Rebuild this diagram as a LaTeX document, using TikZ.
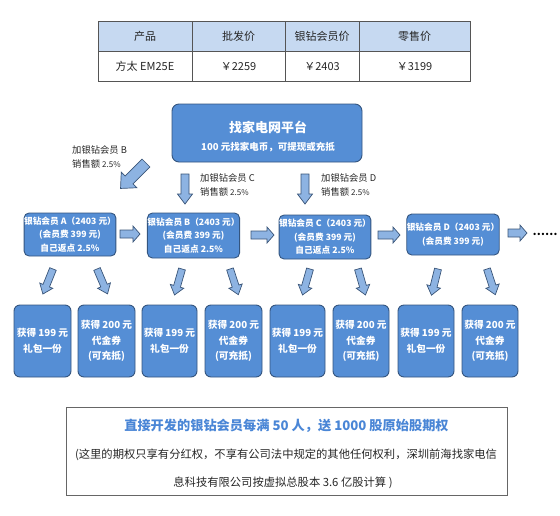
\documentclass[tikz,border=0pt]{standalone}
\usepackage{fontspec}
\setmainfont{Noto Sans CJK SC}
\definecolor{boxblue}{HTML}{558ED5}
\definecolor{boxline}{HTML}{34557F}
\definecolor{arrowfill}{HTML}{8DB3E2}
\definecolor{arrowline}{HTML}{3A5578}
\definecolor{headfill}{HTML}{C6D9F1}
\definecolor{titleblue}{HTML}{4A86D6}
\definecolor{tabline}{HTML}{555555}
\begin{document}
\begin{tikzpicture}[x=1pt,y=-1pt,
  cell/.style={draw=tabline, line width=0.9pt, minimum height=30pt, inner sep=0pt, text=black!85, font=\fontsize{11}{13}\selectfont},
  hcell/.style={cell, fill=headfill},
  bluebox/.style={draw=boxline, line width=0.9pt, fill=boxblue, rounded corners=5pt, text=white, align=center, inner sep=0pt},
  midbox/.style={bluebox, font=\bfseries\fontsize{8.7}{13.5}\selectfont},
  lowbox/.style={bluebox, minimum width=56pt, minimum height=72pt, rounded corners=6pt, font=\bfseries\fontsize{9.7}{15.5}\selectfont},
  lbl/.style={align=left, anchor=north west, inner sep=0pt, text=black!85, font=\fontsize{9.3}{14}\selectfont},
  arrowstyle/.style={draw=arrowline, line width=0.7pt, fill=arrowfill, line join=miter},
  pics/blockarrow/.style n args={4}{code={
    \path[arrowstyle] (0,-#2/2) -- (#1-#4,-#2/2) -- (#1-#4,-#3/2) -- (#1,0) -- (#1-#4,#3/2) -- (#1-#4,#2/2) -- (0,#2/2) -- cycle;
  }}
]
\useasboundingbox (0,0) rectangle (560,515);
% table
\node[hcell, minimum width=94pt] (h1) at (145,36.5) {产品};
\node[hcell, minimum width=93pt] (h2) at (238.5,36.5) {批发价};
\node[hcell, minimum width=74pt] (h3) at (322,36.5) {银钻会员价};
\node[hcell, minimum width=111pt] (h4) at (414.5,36.5) {零售价};
\node[cell, minimum width=94pt] (r1) at (145,66.5) {方太 EM25E};
\node[cell, minimum width=93pt] (r2) at (238.5,66.5) {￥2259};
\node[cell, minimum width=74pt] (r3) at (322,66.5) {￥2403};
\node[cell, minimum width=111pt] (r4) at (414.5,66.5) {￥3199};
% top box
\node[bluebox, minimum width=190pt, minimum height=58pt, rounded corners=7pt] (top) at (267,133) {};
\node[text=white, font=\bfseries\fontsize{13}{15}\selectfont, inner sep=0pt] (toptitle) at (268,127) {找家电网平台};
\node[text=white, font=\bfseries\fontsize{9.5}{11}\selectfont, inner sep=0pt] (topsub) at (268,147) {100 元找家电币，可提现或充抵};
% labels
\node[lbl] (lb) at (72,145) {加银钻会员 B\\销售额 {\fontsize{8}{14}\selectfont 2.5\%}};
\node[lbl] (lc) at (200,173) {加银钻会员 C\\销售额 {\fontsize{8}{14}\selectfont 2.5\%}};
\node[lbl] (ld) at (321,173) {加银钻会员 D\\销售额 {\fontsize{8}{14}\selectfont 2.5\%}};
% arrows from top
\pic[rotate=225] at (146,163) {blockarrow={36}{11}{22}{12}};
\pic[rotate=-90] at (185,174) {blockarrow={30}{8}{15}{10}};
\pic[rotate=-90] at (305,174) {blockarrow={30}{8}{15}{10}};
% middle row
\node[midbox, minimum width=90pt, minimum height=43pt] (ma) at (70,234.5) {银钻会员 A（2403 元）\\(会员费 399 元)\\自己返点 2.5\%};
\node[midbox, minimum width=89pt, minimum height=45pt] (mb) at (193.5,235.5) {银钻会员 B（2403 元）\\(会员费 399 元)\\自己返点 2.5\%};
\node[midbox, minimum width=90pt, minimum height=44pt] (mc) at (325,237) {银钻会员 C（2403 元）\\(会员费 399 元)\\自己返点 2.5\%};
\node[midbox, minimum width=90pt, minimum height=41pt] (md) at (453,234.5) {银钻会员 D（2403 元）\\(会员费 399 元)};
\node[inner sep=0pt, font=\bfseries\fontsize{11}{13}\selectfont] (dots) at (545,234) {……};
% horizontal arrows
\pic at (120,234) {blockarrow={20}{8}{16}{7}};
\pic at (251,235) {blockarrow={23}{8}{16}{7}};
\pic at (378,235) {blockarrow={22}{8}{16}{7}};
\pic at (508,233) {blockarrow={19}{8}{16}{7}};
% bottom row
\node[lowbox, minimum width=57pt] (b1) at (42.5,341) {获得 199 元\\礼包一份};
\node[lowbox, minimum width=57pt] (b2) at (106.5,341) {获得 200 元\\代金券\\(可充抵)};
\node[lowbox, minimum width=55pt] (b3) at (169.5,341) {获得 199 元\\礼包一份};
\node[lowbox, minimum width=57pt] (b4) at (233.5,341) {获得 200 元\\代金券\\(可充抵)};
\node[lowbox, minimum width=55pt] (b5) at (297.5,341) {获得 199 元\\礼包一份};
\node[lowbox, minimum width=56pt] (b6) at (361,341) {获得 200 元\\代金券\\(可充抵)};
\node[lowbox, minimum width=56pt] (b7) at (426,341) {获得 199 元\\礼包一份};
\node[lowbox, minimum width=56pt] (b8) at (490,341) {获得 200 元\\代金券\\(可充抵)};
% slanted arrows
\pic[rotate=248] at (53,269) {blockarrow={27}{7}{14}{9}};
\pic[rotate=-67] at (97,269) {blockarrow={27}{7}{14}{9}};
\pic[rotate=254] at (182,269) {blockarrow={27}{7}{14}{9}};
\pic[rotate=-72] at (230,269) {blockarrow={27}{7}{14}{9}};
\pic[rotate=254] at (310,269) {blockarrow={27}{7}{14}{9}};
\pic[rotate=-74] at (358,269) {blockarrow={27}{7}{14}{9}};
\pic[rotate=256] at (438,269) {blockarrow={27}{7}{14}{9}};
\pic[rotate=-72] at (487,269) {blockarrow={27}{7}{14}{9}};
% bottom box
\node[draw=gray!80!black, line width=0.8pt, minimum width=441pt, minimum height=88pt, inner sep=0pt] (note) at (286.5,451) {};
\node[text=titleblue, font=\bfseries\fontsize{13.2}{15}\selectfont, inner sep=0pt] (n1) at (286.5,426) {直接开发的银钻会员每满 50 人，送 1000 股原始股期权};
\node[text=black!85, font=\fontsize{11.3}{13}\selectfont, inner sep=0pt] (n2) at (286,455) {(这里的期权只享有分红权，不享有公司法中规定的其他任何权利，深圳前海找家电信};
\node[text=black!85, font=\fontsize{11.3}{13}\selectfont, inner sep=0pt] (n3) at (283,483) {息科技有限公司按虚拟总股本 3.6 亿股计算 )};
\end{tikzpicture}
\end{document}
